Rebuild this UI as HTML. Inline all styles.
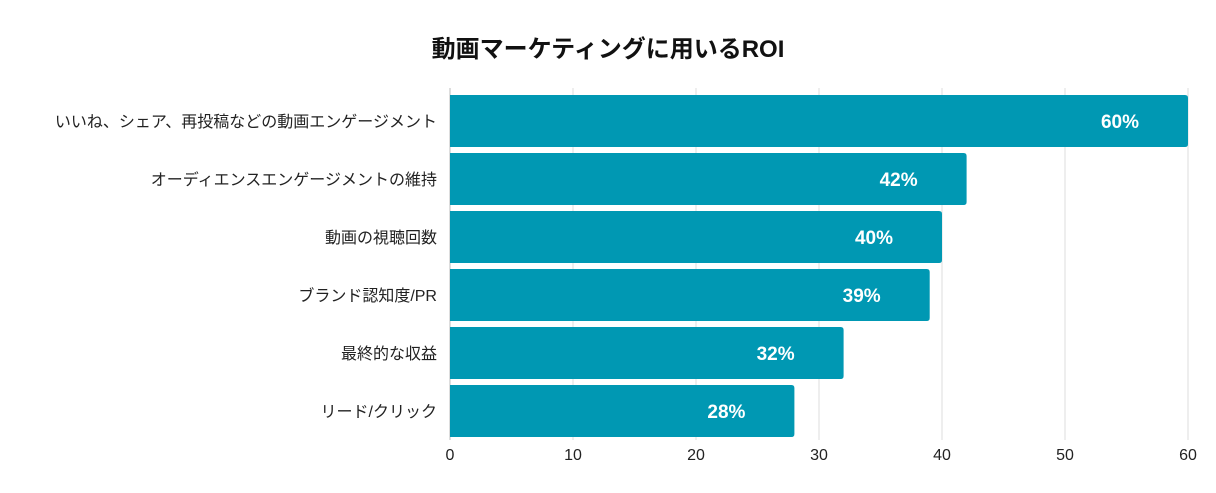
<!DOCTYPE html>
<html><head><meta charset="utf-8"><style>
body{margin:0;background:#fff;width:1216px;height:488px;overflow:hidden;font-family:"Liberation Sans","Noto Sans CJK JP",sans-serif;}
</style></head><body>
<svg width="1216" height="488" xmlns="http://www.w3.org/2000/svg">
<text x="608" y="57" text-anchor="middle" font-size="24" font-weight="bold" fill="#111" font-family="Liberation Sans, Noto Sans CJK JP, sans-serif">動画マーケティングに用いるROI</text>
<g id="grid"></g><g id="bars"></g><g id="ylabels"></g><g id="xticks"></g>
</svg>
<script>
const categories=["いいね、シェア、再投稿などの動画エンゲージメント","オーディエンスエンゲージメントの維持","動画の視聴回数","ブランド認知度/PR","最終的な収益","リード/クリック"];
const values=[60,42,40,39,32,28];
const tickValues=[0,10,20,30,40,50,60];
const NS="http://www.w3.org/2000/svg";
const x0=450,x1=1188,xmax=60;
const xs=v=>x0+(x1-x0)*v/xmax;
const top0=95,step=58,bh=52;
function mk(t,a,p){const e=document.createElementNS(NS,t);for(const k in a)e.setAttribute(k,a[k]);p.appendChild(e);return e;}
const g=document.getElementById('grid'),b=document.getElementById('bars'),yl=document.getElementById('ylabels'),xt=document.getElementById('xticks');
tickValues.forEach(v=>{
 const l=mk('line',{x1:xs(v),x2:xs(v),y1:88,y2:440,stroke:v===0?'#bbb':'#ddd','stroke-width':1},g);
 
 
 const t=mk('text',{x:xs(v),y:460,'text-anchor':'middle','font-size':16,fill:'#222'},xt);
 t.textContent=v;
 
 
});
categories.forEach((c,i)=>{
 const y=top0+i*step,w=xs(values[i])-x0;
 const p=mk('path',{d:`M${x0},${y}H${x0+w-3}Q${x0+w},${y} ${x0+w},${y+3}V${y+bh-3}Q${x0+w},${y+bh} ${x0+w-3},${y+bh}H${x0}Z`,fill:'#0098b3'},b);
 
 
 const vt=mk('text',{x:x0+w-68,y:y+bh/2+7,'text-anchor':'middle','font-size':19,'font-weight':'bold',fill:'#fff'},b);
 vt.textContent=values[i]+'%';
 
 
 const lt=mk('text',{x:437,y:y+bh/2+6,'text-anchor':'end','font-size':16,fill:'#222'},yl);
 lt.textContent=c;
 
 
});
</script>
</body></html>
